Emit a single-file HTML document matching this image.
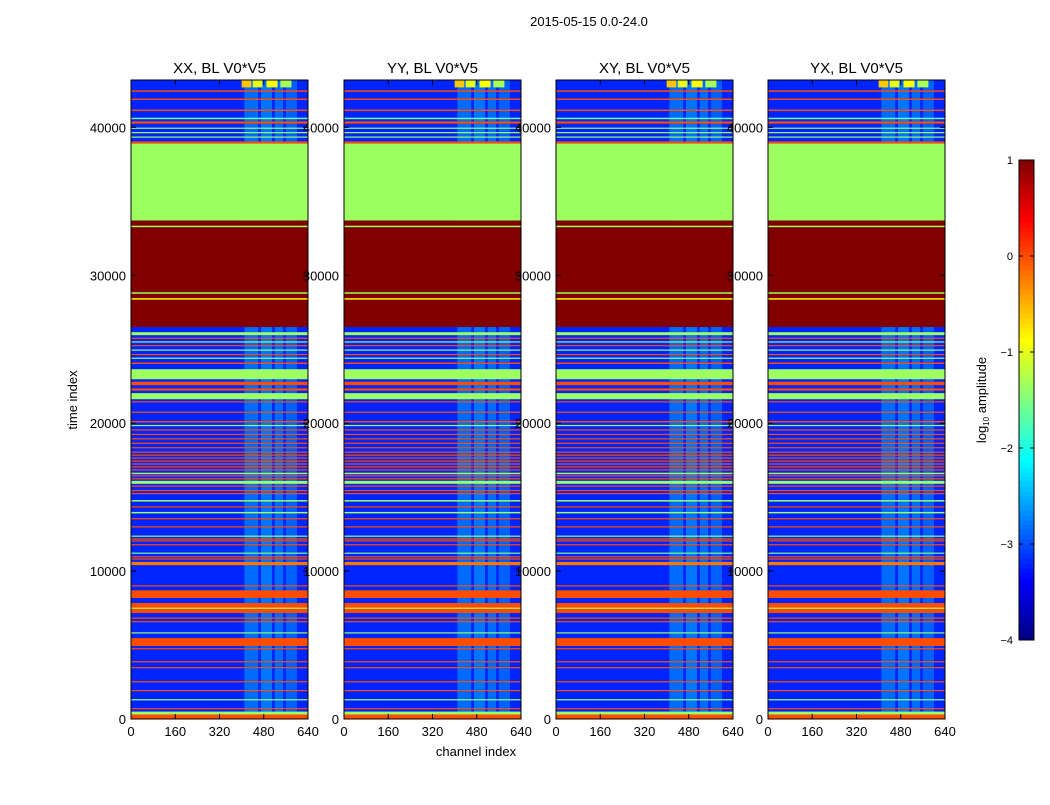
<!DOCTYPE html>
<html><head><meta charset="utf-8"><style>
body{margin:0;background:#fff;font-family:"Liberation Sans",sans-serif}
svg text{font-family:"Liberation Sans",sans-serif;fill:#000}
</style></head><body>
<svg id="fig" width="1050" height="800" viewBox="0 0 1050 800">
<text x="589" y="26" font-size="13" text-anchor="middle">2015-05-15 0.0-24.0</text>
<text x="476" y="756" font-size="13" text-anchor="middle">channel index</text>
<text transform="translate(77,400) rotate(-90)" font-size="13" text-anchor="middle">time index</text>
<g id="panels"></g>
<g id="cbar"></g>
<text transform="translate(986,400) rotate(-90)" font-size="13" text-anchor="middle">log<tspan font-size="8" dy="3">10</tspan><tspan dy="-3"> amplitude</tspan></text>
</svg>
<script>
const panelTitles=["XX, BL V0*V5","YY, BL V0*V5","XY, BL V0*V5","YX, BL V0*V5"];
const xTicks=[0,160,320,480,640];
const yTicks=[0,10000,20000,30000,40000];
const cbTicks=[1,0,-1,-2,-3,-4];
const backgroundValue=-3.2;
// channel stripes: [start channel, end channel, log amplitude]
const colStart=[410,470,520,560];
const colEnd=[460,510,550,600];
const colValue=[-2.85,-2.8,-2.85,-2.9];
// top-right bright patches
const patchStart=[400,440,490,540];
const patchEnd=[435,475,530,580];
const patchValue=[-0.6,-1.0,-0.9,-1.3];
const patchT0=42700, patchT1=43200;
// time bands: start, end (time index), log amplitude
const bandStart=[42400,41850,41100,40550,40250,39900,39600,39300,38900,33700,26500,33250,28750,28350,
25950,25700,25450,25200,24900,24600,24350,24000,22970,22570,22200,21620,21400,20700,20050,19800,19500,
19200,18900,18600,18300,18000,17800,17600,17400,17200,17000,16800,16550,16400,16200,15900,15700,15400,15200,14700,14300,13900,13500,
12950,12320,12130,12000,11740,11170,10930,10780,10400,8960,8180,7160,7450,6780,6540,5780,4930,4710,3830,3430,2480,1880,1260,660,300,0];
const bandEnd=[42500,41950,41200,40650,40400,39980,39680,39380,39050,38900,33700,33350,28850,28450,
26150,25780,25530,25280,24980,24680,24430,24100,23650,22800,22350,22030,21480,20780,20150,19880,19580,
19280,18980,18680,18380,18080,17880,17680,17480,17280,17080,16880,16650,16480,16280,16100,15780,15480,15280,14800,14380,14000,13580,
13030,12400,12210,12080,11820,11250,11010,10860,10620,9040,8700,7840,7530,6860,6620,5860,5470,4790,3910,3510,2560,1960,1340,740,500,300];
const bandValue=[0,0,0,-1.6,0,-1.4,-1.3,-1.4,0,-1.35,1,-1.35,-1.35,-0.9,
-1.35,0,-1.35,0,-1.35,0,-1.4,0,-1.35,0,0,-1.35,0,0,0,-1.35,0,
0,0,0,0,0,0,0,0,0,0,0,-1.35,0,0,-1.35,0,0,0,-1.35,0,-1.35,0,
0,-1.35,0,0,0,-1.5,0,0,-0.2,0,0,0,-1.35,0,0,-1.35,0,0,0,0,0,0,-1.35,0,-1.35,0];
const NS="http://www.w3.org/2000/svg";
function jet(v){const n=Math.max(0,Math.min(1,(v+4)/5));const c=x=>Math.round(255*Math.max(0,Math.min(1,1.5-Math.abs(4*n-x))));return `rgb(${c(3)},${c(2)},${c(1)})`;}
const X0=[131,344,556,768],PW=177,Y0=80,Y1=719,TMAX=43200;
function sx(p,c){return X0[p]+c/640*PW;}
function sy(t){return Y1-t/TMAX*(Y1-Y0);}
function mk(tag,attrs,parent){const e=document.createElementNS(NS,tag);for(const k in attrs)e.setAttribute(k,attrs[k]);parent.appendChild(e);return e;}
const root=document.getElementById('panels');
for(let p=0;p<4;p++){
 const g=mk('g',{},root);
 
 
 const bg=mk('rect',{x:sx(p,0),y:sy(TMAX),width:PW,height:Y1-Y0,fill:jet(backgroundValue)},g);
 
 
 for(let i=0;i<colStart.length;i++){
  const r=mk('rect',{x:sx(p,colStart[i]),y:sy(TMAX),width:sx(p,colEnd[i])-sx(p,colStart[i]),height:Y1-Y0,fill:jet(colValue[i])},g);
  
  
 }
 for(let i=0;i<patchStart.length;i++){
  const r=mk('rect',{x:sx(p,patchStart[i]),y:sy(patchT1),width:sx(p,patchEnd[i])-sx(p,patchStart[i]),height:sy(patchT0)-sy(patchT1),fill:jet(patchValue[i])},g);
  
  
 }
 for(let i=0;i<bandStart.length;i++){
  const y=sy(bandEnd[i]),h=Math.max(1.2,sy(bandStart[i])-sy(bandEnd[i]));
  const r=mk('rect',{x:sx(p,0),y:y,width:PW,height:h,fill:jet(bandValue[i])},g);
  
  
 }
 const fr=mk('rect',{x:sx(p,0),y:Y0,width:PW,height:Y1-Y0,fill:'none',stroke:'#000','stroke-width':1},g);
 
 
 const t=mk('text',{x:sx(p,320),y:73,'font-size':15,'text-anchor':'middle'},g);t.textContent=panelTitles[p];
 
 
 xTicks.forEach(v=>{const x=sx(p,v);
  mk('line',{x1:x,x2:x,y1:Y1,y2:Y1-5,stroke:'#000'},g);mk('line',{x1:x,x2:x,y1:Y0,y2:Y0+5,stroke:'#000'},g);
  const tl=mk('text',{x:x,y:Y1+17,'font-size':13,'text-anchor':'middle'},g);tl.textContent=v;
  
  });
 yTicks.forEach(v=>{const y=sy(v);
  mk('line',{x1:sx(p,0),x2:sx(p,0)+5,y1:y,y2:y,stroke:'#000'},g);mk('line',{x1:sx(p,640),x2:sx(p,640)-5,y1:y,y2:y,stroke:'#000'},g);
  const tl=mk('text',{x:sx(p,0)-5,y:y+5,'font-size':13,'text-anchor':'end'},g);tl.textContent=v;
  
  });
}
const cb=document.getElementById('cbar');
for(let i=0;i<100;i++){const v=-4+5*i/100;mk('rect',{x:1019,y:640-(i+1)*4.8,width:15,height:5.3,fill:jet(v+0.025)},cb);}
mk('rect',{x:1019,y:160,width:15,height:480,fill:'none',stroke:'#000'},cb);
cbTicks.forEach(v=>{const y=640-(v+4)*96;
 mk('line',{x1:1019,x2:1023,y1:y,y2:y,stroke:'#000'},cb);mk('line',{x1:1030,x2:1034,y1:y,y2:y,stroke:'#000'},cb);
 const tl=mk('text',{x:1013,y:y+4,'font-size':11,'text-anchor':'end'},cb);tl.textContent=v<0?'\u2212'+(-v):v;
 
 });
</script>
</body></html>
